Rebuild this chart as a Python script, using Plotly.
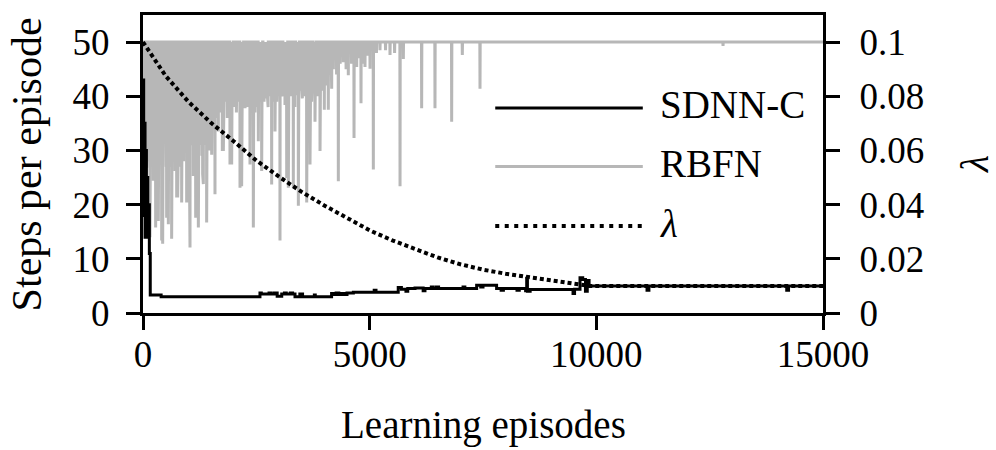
import plotly.graph_objects as go

# ---------------- data ----------------
# SDNN-C: steps per episode (step changes, episode -> value)
sdnn_ep = [0, 15, 30, 45, 60, 75, 90, 105, 120, 140, 160, 400,
           2580, 2610, 2780, 2830, 2900, 2960, 3060, 3120, 3160, 3250, 3300, 3353,
           3460, 3520, 3780, 3800, 4160, 4200, 4260, 4320, 4380, 4440, 4500, 4640,
           5100, 5140, 5630, 5700, 5800, 5840, 6000, 6180, 6220, 6360, 6400, 6470,
           6520, 7060, 7100, 7360, 7450, 7500, 7800, 7900, 7950, 8250, 8300, 8440,
           8464, 8480, 8540, 9486, 9520, 9640, 9700, 9760, 9800, 9840, 11118, 11160,
           14200, 14240, 15000]
sdnn_steps = [43, 18, 35, 14, 30, 16, 25, 14, 20, 11, 3.3, 3.0,
              3.7, 3.5, 3.7, 3.5, 3.7, 3.1, 3.5, 3.7, 3.5, 3.7, 3.5, 3.0,
              3.5, 3.0, 3.3, 3.0, 3.6, 3.4, 3.7, 3.4, 3.6, 3.4, 3.7, 3.85,
              4.2, 3.85, 4.7, 4.4, 4.0, 4.5, 4.6, 4.1, 4.5, 4.8, 4.5, 4.8,
              4.5, 4.8, 4.5, 5.1, 4.8, 5.1, 4.5, 4.2, 4.5, 4.2, 4.5, 4.1,
              6.4, 4.0, 4.35, 3.6, 4.4, 6.5, 6.2, 4.0, 6.0, 5.0, 4.2, 5.0,
              4.2, 5.0, 5.0]

# RBFN: episodes where the step count drops below the 50-step cap, and the value reached
rbfn_cap = 50
rbfn_drop_ep = [10, 20, 35, 50, 60, 81, 95, 110, 130, 154, 170, 190, 210, 228, 245, 260,
                279, 295, 310, 325, 338, 353, 367, 380, 396, 412, 434, 447, 460, 480,
                500, 512, 522, 540, 559, 575, 588, 600, 615, 632, 646, 660, 680, 694,
                706, 720, 743, 765, 778, 790, 805, 820, 836, 853, 866, 880, 895, 910,
                925, 940, 963, 976, 990, 1010, 1024, 1037, 1055, 1070, 1090, 1110,
                1125, 1140, 1162, 1176, 1190, 1205, 1221, 1236, 1250, 1265, 1280, 1300,
                1316, 1331, 1350, 1365, 1380, 1404, 1418, 1430, 1450, 1464, 1478, 1497,
                1515, 1528, 1540, 1560, 1588, 1610, 1630, 1645, 1662, 1690, 1705, 1720,
                1735, 1750, 1772, 1786, 1800, 1830, 1845, 1860, 1875, 1890, 1905, 1919,
                1940, 1956, 1975, 1990, 2010, 2029, 2045, 2060, 2075, 2090, 2110, 2125,
                2140, 2160, 2176, 2200, 2215, 2235, 2250, 2265, 2280, 2295, 2310, 2330,
                2345, 2360, 2375, 2390, 2410, 2434, 2450, 2470, 2485, 2500, 2520, 2544,
                2560, 2580, 2600, 2618, 2635, 2650, 2670, 2690, 2710, 2728, 2745, 2760,
                2775, 2790, 2810, 2838, 2855, 2870, 2890, 2912, 2930, 2950, 2965, 2980,
                3000, 3022, 3040, 3060, 3075, 3090, 3110, 3132, 3150, 3170, 3188, 3206,
                3225, 3250, 3265, 3280, 3298, 3316, 3335, 3350, 3370, 3390, 3410, 3427,
                3445, 3460, 3480, 3500, 3515, 3535, 3560, 3580, 3595, 3611, 3630, 3650,
                3668, 3684, 3700, 3720, 3735, 3750, 3770, 3794, 3815, 3840, 3855, 3870,
                3890, 3905, 3925, 3950, 3975, 4000, 4020, 4040, 4065, 4088, 4110, 4130,
                4150, 4162, 4200, 4235, 4270, 4309, 4350, 4419, 4480, 4529, 4600, 4655,
                4714, 4760, 4809, 4850, 4897, 4950, 5008, 5081, 5150, 5228, 5350, 5449,
                5550, 5670, 5743, 6147, 6441, 6809, 7044, 7434, 12795]
rbfn_drop_min = [30, 38, 27, 33, 29, 26.8, 32, 36, 28, 14.0, 30, 31, 27, 24.4, 33, 39,
                 15.8, 29, 34, 26, 17.0, 18.9, 31, 37, 28, 13.4, 12.8, 30, 32, 40,
                 30.5, 27, 17.6, 35, 16.4, 29, 33, 38, 27, 13.7, 30, 31, 36, 28,
                 26.2, 39, 21.3, 21.3, 30, 33, 27, 37, 29, 20.4, 32, 35, 28, 30,
                 34, 38, 20.4, 29, 34, 39, 27, 12.1, 31, 32, 36, 25.3,
                 33, 40, 17.6, 30, 35, 28, 15.8, 33, 31, 36, 38, 29,
                 25.6, 23.8, 36, 31, 33, 16.7, 35, 39, 35, 30, 31.7, 37,
                 29.2, 36, 38, 34, 21.9, 40, 36, 39, 33.5, 41, 37, 38,
                 40, 29.9, 29.9, 39, 42, 39, 41, 36, 38, 43, 40, 27.4,
                 39, 27.4, 41, 40, 38, 41.4, 42, 37, 40, 42, 39, 41,
                 23.1, 39, 23.4, 41, 38, 42, 37.8, 40, 43, 39, 38, 41,
                 40, 27.4, 42, 40, 42, 15.8, 39, 37, 41, 41, 38, 31.7,
                 40, 39, 42, 26.2, 41, 42, 39, 40, 42, 39.6, 40, 38,
                 41, 43, 40, 23.7, 42, 41, 39, 33.5, 41, 39, 43, 42,
                 40, 13.4, 42, 40, 41, 43, 40, 38.4, 42, 24.9, 41, 23.1,
                 42, 40, 43, 42, 41, 23.1, 42, 38, 41, 40.2, 43, 19.8,
                 42, 41, 43, 42, 39.6, 41, 40, 43, 42, 20.4, 41, 42,
                 43, 27.4, 42, 39, 43, 43, 41, 35.3, 42, 40, 43, 42,
                 41, 29.9, 43, 41, 42, 37.5, 44, 43, 42, 37.5, 44, 44,
                 43, 41.4, 45, 46.9, 44, 24.3, 46, 46.3, 45, 43.9, 46, 32.3,
                 45.4, 47, 38.7, 46, 45.4, 47.5, 45.1, 26.5, 48, 48.5, 48.5, 47.6,
                 48, 23.4, 46.9, 37.8, 37.8, 35.3, 47.6, 41.4, 49.3]

# exploration parameter lambda over the run
lambda_ep = [0, 500, 1000, 1500, 2000, 2500, 3000, 3500, 4000, 4500, 5000, 5500,
             6000, 6500, 7000, 7500, 8000, 8500, 9000, 9500, 9850, 15000]
lambda_val = [0.1, 0.0875, 0.078, 0.0702, 0.0634, 0.0563, 0.0503, 0.0447, 0.0397,
              0.0350, 0.0305, 0.0268, 0.0236, 0.0205, 0.0180, 0.0160, 0.0145, 0.0132,
              0.0121, 0.0108, 0.0100, 0.0100]

x_ticks = [0, 5000, 10000, 15000]
x_ticktext = ["0", "5000", "10000", "15000"]
y_ticks = [0, 10, 20, 30, 40, 50]
y2_ticks = [0, 0.02, 0.04, 0.06, 0.08, 0.1]
y2_ticktext = ["0", "0.02", "0.04", "0.06", "0.08", "0.1"]

# ---------------- build RBFN line (cap between drops) ----------------
rb_x, rb_y = [0], [rbfn_cap]
for e, m in sorted(zip(rbfn_drop_ep, rbfn_drop_min)):
    rb_x += [e - 4, e, e + 4]
    rb_y += [rbfn_cap, m, rbfn_cap]
rb_x.append(15000)
rb_y.append(rbfn_cap)

FONT = "Liberation Serif"
GRAY = "rgb(183,183,183)"
DOTS = "4px,3px"

fig = go.Figure()
fig.add_trace(go.Scatter(x=rb_x, y=rb_y, mode="lines", name="RBFN",
                         line=dict(color=GRAY, width=3), showlegend=False))
fig.add_trace(go.Scatter(x=sdnn_ep, y=sdnn_steps, mode="lines", name="SDNN-C",
                         line=dict(color="black", width=3, shape="hv"), showlegend=False))
fig.add_trace(go.Scatter(x=lambda_ep, y=lambda_val, mode="lines", name="λ", yaxis="y2",
                         line=dict(color="black", width=4, dash=DOTS),
                         showlegend=False))

axis_common = dict(showgrid=False, zeroline=False, showline=True, linecolor="black",
                   linewidth=3, ticks="outside", ticklen=14, tickwidth=2.5,
                   tickcolor="black", tickfont=dict(family=FONT, size=37, color="black"))

fig.update_layout(
    width=996, height=450,
    margin=dict(l=143, r=173, t=12, b=137),
    paper_bgcolor="white", plot_bgcolor="white",
    font=dict(family=FONT, color="black"),
    xaxis=dict(range=[0, 15000], tickvals=x_ticks, ticktext=x_ticktext, mirror=True,
               ticklabelstandoff=-7, **axis_common),
    yaxis=dict(range=[0, 55], tickvals=y_ticks, ticklabelstandoff=9, **axis_common),
    yaxis2=dict(range=[0, 0.11], tickvals=y2_ticks, ticktext=y2_ticktext,
                overlaying="y", side="right", ticklabelstandoff=12, **axis_common),
)

# axis titles
title_font = dict(family=FONT, size=39, color="black")
fig.add_annotation(text="Learning episodes", xref="paper", yref="paper",
                   x=0.5, y=-0.375, xanchor="center", yanchor="middle",
                   showarrow=False, font=title_font)
fig.add_annotation(text="Steps per episode", xref="paper", yref="paper",
                   x=-0.17, y=0.5, xanchor="center", yanchor="middle",
                   textangle=-90, showarrow=False, font=dict(family=FONT, size=42, color="black"))
fig.add_annotation(text="<i>λ</i>", xref="paper", yref="paper",
                   x=1.222, y=0.5, xanchor="center", yanchor="middle",
                   textangle=-90, showarrow=False, font=title_font)

# legend drawn inside the plot area
legend_items = [("SDNN-C", "black", "solid", 0.688),
                ("RBFN", GRAY, "solid", 0.492),
                ("<i>λ</i>", "black", "4px,5.5px", 0.292)]
for label, color, dash, yy in legend_items:
    fig.add_shape(type="line", xref="paper", yref="paper",
                  x0=0.518, x1=0.735, y0=yy, y1=yy,
                  line=dict(color=color, width=3 if dash == "solid" else 4, dash=dash))
    fig.add_annotation(text=label, xref="paper", yref="paper",
                       x=0.757, y=yy + 0.01, xanchor="left", yanchor="middle",
                       showarrow=False, font=title_font)

fig.write_html("out.html")
